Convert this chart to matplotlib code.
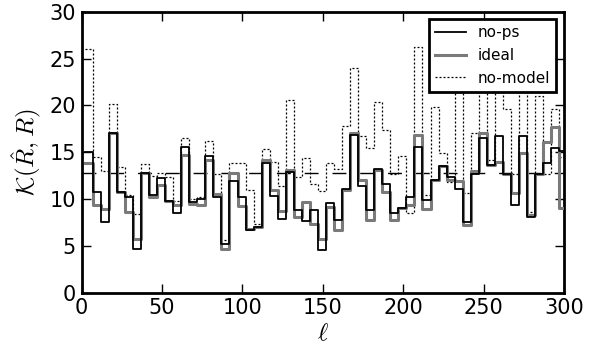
import matplotlib
matplotlib.use('Agg')
import matplotlib.pyplot as plt
import numpy as np

# multipole bins of width 5 starting at l=2
bin_edges = np.arange(2, 303, 5)

no_ps = [15.0, 10.8, 7.6, 17.1, 10.8, 10.2, 4.7, 12.8, 10.4, 12.2,
         9.8, 8.5, 15.6, 9.7, 10.0, 14.6, 10.2, 5.2, 11.9, 10.2,
         6.7, 7.0, 13.9, 10.3, 7.9, 12.9, 8.8, 7.7, 8.8, 4.6,
         9.6, 7.8, 11.1, 16.8, 11.4, 8.8, 13.2, 11.6, 8.5, 9.0,
         10.2, 15.6, 9.9, 12.0, 13.5, 12.4, 11.1, 7.5, 12.7, 16.5,
         13.6, 16.7, 12.7, 9.4, 16.7, 8.1, 12.7, 13.8, 15.5, 15.1]

ideal = [13.9, 9.4, 8.9, 17.1, 10.8, 8.6, 5.7, 12.8, 10.2, 11.5,
         9.8, 9.4, 14.7, 9.5, 9.4, 14.2, 10.5, 4.7, 12.8, 9.3,
         6.8, 7.0, 14.2, 11.0, 8.7, 13.1, 8.1, 9.7, 7.3, 5.7,
         9.1, 6.7, 11.0, 17.0, 12.0, 7.8, 13.1, 10.8, 7.8, 9.0,
         9.4, 16.8, 8.9, 12.0, 13.5, 12.0, 11.9, 7.2, 13.0, 17.0,
         13.6, 14.0, 12.7, 10.6, 14.9, 8.3, 12.7, 16.1, 17.7, 9.0]

no_model = [26.0, 14.5, 13.0, 20.2, 13.4, 10.4, 8.4, 13.7, 12.5, 12.8,
            12.4, 9.8, 16.5, 10.0, 10.2, 16.2, 12.7, 5.6, 13.9, 13.9,
            11.0, 7.3, 15.3, 14.0, 11.4, 20.6, 12.4, 14.4, 11.6, 10.9,
            13.9, 13.2, 17.8, 24.0, 16.7, 15.4, 20.4, 17.4, 12.7, 14.6,
            8.5, 26.2, 10.4, 19.8, 14.9, 11.8, 27.0, 10.6, 17.1, 26.0,
            14.2, 25.0, 19.6, 12.7, 24.0, 8.6, 21.0, 12.7, 19.6, 14.5]

expected = 12.8

plt.rcParams['mathtext.fontset'] = 'cm'

fig = plt.figure(figsize=(5.89, 3.53), dpi=100)
ax = fig.add_axes([0.1384, 0.1708, 0.8192, 0.7960])

ax.step(bin_edges, no_ps + [no_ps[-1]], where='post', color='black', lw=1.3,
        label='no-ps', zorder=4)
ax.step(bin_edges, ideal + [ideal[-1]], where='post', color='#7a7a7a', lw=2.2,
        label='ideal', zorder=3)
ax.step(bin_edges, no_model + [no_model[-1]], where='post', color='black', lw=0.9,
        ls=(0, (1.6, 1.6)), label='no-model', zorder=2)
ax.axhline(expected, color='black', lw=1.0, ls=(0, (10, 10)), zorder=1)

ax.set_xlim(0, 300)
ax.set_ylim(0, 30)
ax.set_xticks(np.arange(0, 301, 50))
ax.set_yticks(np.arange(0, 31, 5))
ax.tick_params(direction='in', top=True, right=True, length=6.5, width=1,
               labelsize=15, pad=4)
for s in ax.spines.values():
    s.set_linewidth(2)

ax.set_xlabel(r'$\ell$', fontsize=18, labelpad=2)
ax.set_ylabel(r'$\mathcal{K}(\hat{R},R)$', fontsize=18, labelpad=4)

leg = ax.legend(loc='upper right', fontsize=11, fancybox=False, framealpha=1,
                handlelength=2.0, borderaxespad=0.5)
leg.get_frame().set_edgecolor('black')
leg.get_frame().set_linewidth(2)

fig.savefig('out.png', dpi=100)
